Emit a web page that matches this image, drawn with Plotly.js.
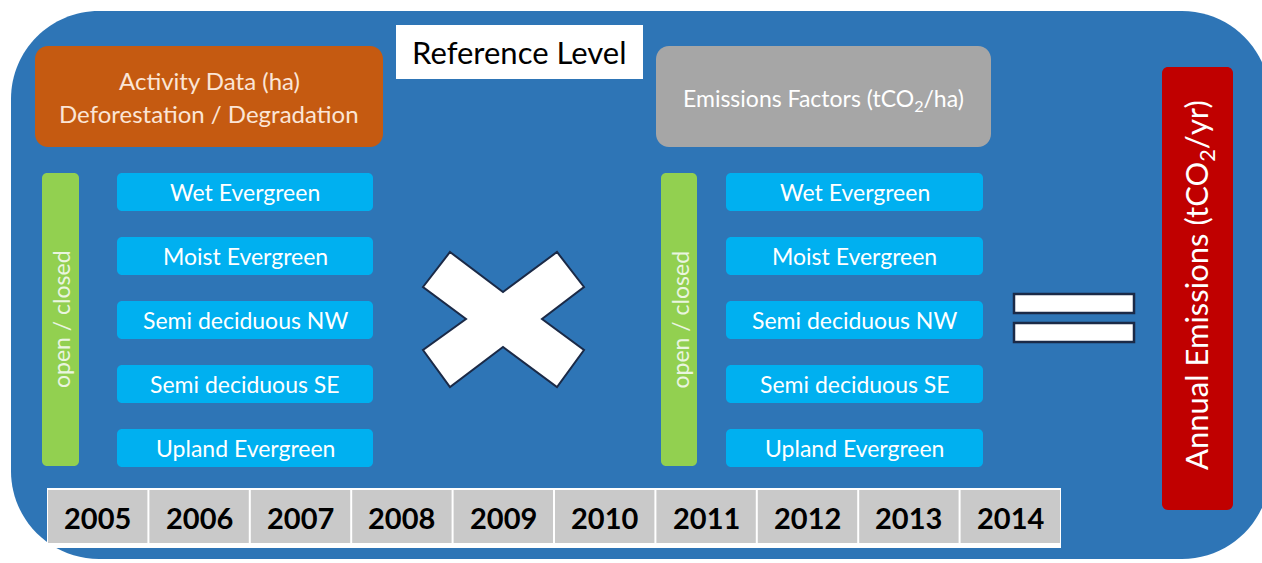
<!DOCTYPE html>
<html><head><meta charset="utf-8">
<script src="https://cdn.plot.ly/plotly-3.0.1.min.js"></script>
<style>html,body{margin:0;padding:0;background:#fff}#c{width:1262px;height:563px}</style>
</head><body><div id="c"></div>
<script>
// ---- data ----
const title = "Reference Level";
const activityLabel = ["Activity Data (ha)", "Deforestation / Degradation"];
const factorLabel = "Emissions Factors (tCO<sub>2</sub>/ha)";
const resultLabel = "Annual Emissions (tCO<sub>2</sub>/yr)";
const stratumLabel = "open / closed";
const forestTypes = ["Wet Evergreen", "Moist Evergreen", "Semi deciduous NW", "Semi deciduous SE", "Upland Evergreen"];
const years = [2005, 2006, 2007, 2008, 2009, 2010, 2011, 2012, 2013, 2014];

// ---- styles ----
const C = {bg:"#2E75B6", lb:"#00B0F0", green:"#92D050", orange:"#C55A11", gray:"#A6A6A6", red:"#C00000", cell:"#C9C9C9"};
const F = "Lato, 'Open Sans', sans-serif";

function rr(x0,y0,x1,y1,r){
  const k=0.5523*r;
  return `M${x0+r},${y0} L${x1-r},${y0} C${x1-r+k},${y0} ${x1},${y0+r-k} ${x1},${y0+r} `+
         `L${x1},${y1-r} C${x1},${y1-r+k} ${x1-r+k},${y1} ${x1-r},${y1} `+
         `L${x0+r},${y1} C${x0+r-k},${y1} ${x0},${y1-r+k} ${x0},${y1-r} `+
         `L${x0},${y0+r} C${x0},${y0+r-k} ${x0+r-k},${y0} ${x0+r},${y0} Z`;
}
const shapes=[], ann=[];
function box(x0,y0,x1,y1,r,fill,line,lw){
  shapes.push({type:"path",xref:"x",yref:"y",path:rr(x0,y0,x1,y1,r),fillcolor:fill,
    line:{color:line||fill,width:lw||0},layer:"below"});
}
function txt(x,y,t,size,color,opts){
  ann.push(Object.assign({x:x,y:y,xref:"x",yref:"y",text:t,showarrow:false,
    font:{family:F,size:size,color:color},xanchor:"center",yanchor:"middle"},opts||{}));
}

// background panel
box(11,11,1270,559,88,C.bg);
// title
shapes.push({type:"rect",x0:396,x1:643,y0:25,y1:79,fillcolor:"#fff",line:{width:0},layer:"below"});
txt(519.5,52,title,31,"#000");
// activity data
box(35,46,383,147,13,C.orange);
txt(209,80,activityLabel[0],24,"#FBE5D6");
txt(209,113,activityLabel[1],24,"#FBE5D6");
// emission factors
box(656,46,991,147,13,C.gray);
txt(823.5,99,factorLabel,23,"#fff");
// result
box(1162,67,1233,510,6,C.red);
txt(1198,285,resultLabel,31,"#fff",{textangle:-90});

// two columns of strata
const cols=[{g0:42,g1:79,b0:117,b1:373},{g0:661,g1:697,b0:726,b1:983}];
const rowTop=173, rowStep=64, rowH=38;
cols.forEach(c=>{
  box(c.g0,173,c.g1,466,5,C.green);
  txt((c.g0+c.g1)/2,319.5,stratumLabel,23,"#EAF5E0",{textangle:-90});
  forestTypes.forEach((t,i)=>{
    const y0=rowTop+i*rowStep;
    box(c.b0,y0,c.b1,y0+rowH,5,C.lb);
    txt((c.b0+c.b1)/2,y0+rowH/2,t,23,"#fff");
  });
});

// multiply sign
shapes.push({type:"path",xref:"x",yref:"y",
  path:"M450,252 L503,292 L557,252 L584,287 L542,319 L584,350 L557,387 L503,347 L450,387 L423,350 L466,319 L423,287 Z",
  fillcolor:"#fff",line:{color:"#1B2A47",width:2}});
// equals sign
shapes.push({type:"rect",x0:1014,x1:1134,y0:294,y1:313,fillcolor:"#fff",line:{color:"#1B2A47",width:2.5}});
shapes.push({type:"rect",x0:1014,x1:1134,y0:323,y1:342,fillcolor:"#fff",line:{color:"#1B2A47",width:2.5}});

// years table
const tx0=47, tx1=1061, ty0=488, ty1=548;
const cw=(tx1-tx0)/years.length;
shapes.push({type:"rect",x0:tx0,x1:tx1,y0:ty0,y1:ty1,fillcolor:"#fff",line:{width:0}});
years.forEach((yv,i)=>{
  const x0=tx0+i*cw;
  shapes.push({type:"rect",x0:x0+1,x1:x0+cw-1,y0:ty0+2,y1:ty1-5,fillcolor:C.cell,line:{width:0}});
  txt(x0+cw/2,517,"<b>"+yv+"</b>",29,"#000");
});

const layout={width:1262,height:563,margin:{l:0,r:0,t:0,b:0},paper_bgcolor:"#fff",plot_bgcolor:"#fff",
  xaxis:{range:[0,1262],visible:false,fixedrange:true},
  yaxis:{range:[563,0],visible:false,fixedrange:true},
  showlegend:false,shapes:shapes,annotations:ann};
Plotly.newPlot("c",[{x:[],y:[],type:"scatter",mode:"markers",hoverinfo:"skip"}],layout,{displayModeBar:false,staticPlot:true});
</script></body></html>
